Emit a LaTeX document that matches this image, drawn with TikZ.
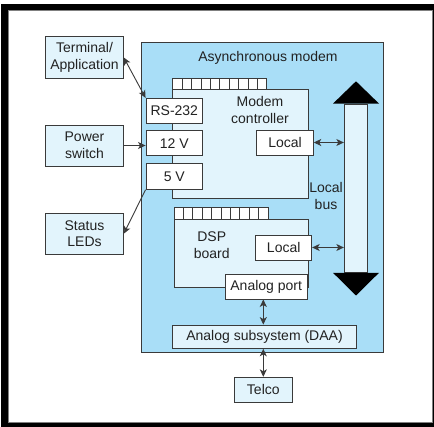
\documentclass[tikz,border=0pt]{standalone}
\usepackage{fontspec}
\setmainfont{Liberation Sans}
\usetikzlibrary{arrows.meta}
\definecolor{modemblue}{HTML}{A9DEF7}
\definecolor{lightblue}{HTML}{E2F4FC}
\definecolor{edgegray}{HTML}{3A3A3A}
\definecolor{txt}{HTML}{222222}
\begin{document}
\begin{tikzpicture}[x=1pt,y=-1pt,
  font=\fontsize{14}{16.5}\selectfont, text=txt,
  box/.style={draw=edgegray, line width=0.9pt, fill=lightblue, inner sep=0pt, align=center},
  wbox/.style={box, fill=white},
  tip/.tip={Stealth[length=7.5pt,width=7pt,inset=2pt]},
  dconn/.style={line width=0.9pt, draw=edgegray, tip-tip},
  sconn/.style={line width=0.9pt, draw=edgegray, -tip},
  lbl/.style={inner sep=0pt, align=center}
]
\useasboundingbox (0,0) rectangle (434,427);
% frame
\fill[black] (1,4) rectangle (433.5,427);
\draw[gray, fill=white, line width=0.6pt] (8,10) rectangle (432.5,422);

% external boxes
\node[box, minimum width=77.6pt, minimum height=41.6pt] (term) at (84.5,57.5) {Terminal/\\Application};
\node[box, minimum width=77.6pt, minimum height=41pt] (power) at (84.5,145.5) {Power\\switch};
\node[box, minimum width=77.6pt, minimum height=40.7pt] (leds) at (84.5,233.7) {Status\\LEDs};

% modem
\node[box, fill=modemblue, minimum width=242pt, minimum height=310.4pt] (modem) at (262.3,197.5) {};
\node[lbl] (modemlbl) at (268,58) {Asynchronous modem};

% modem controller board
\node[box, minimum width=135.6pt, minimum height=109pt] (ctrl) at (240.5,143.8) {};
\foreach \i in {0,...,9} {
  \draw[draw=edgegray, line width=0.7pt, fill=white] (172.7+\i*9.4,78.3) rectangle (172.7+\i*9.4+9.4,89.3);
}
\node[lbl] (ctrllbl) at (260,110) {Modem\\controller};

% DSP board
\node[box, minimum width=134.3pt, minimum height=68pt] (dsp) at (241.2,253.3) {};
\foreach \i in {0,...,9} {
  \draw[draw=edgegray, line width=0.7pt, fill=white] (174+\i*9.4,207.7) rectangle (174+\i*9.4+9.4,219.3);
}
\node[lbl] (dsplbl) at (211.7,245) {DSP\\board};

% small white boxes
\node[wbox, minimum width=56.6pt, minimum height=25pt] (rs) at (174.3,110.8) {RS-232};
\node[wbox, minimum width=56.6pt, minimum height=25pt] (twelve) at (174.3,143.2) {12 V};
\node[wbox, minimum width=56.6pt, minimum height=26pt] (five) at (174.3,176.3) {5 V};
\node[wbox, minimum width=56.6pt, minimum height=25pt] (loc1) at (285,142.5) {Local};
\node[wbox, minimum width=56pt, minimum height=25pt] (loc2) at (283.7,247.5) {Local};
\node[wbox, minimum width=82.3pt, minimum height=25pt] (aport) at (266.2,286.5) {Analog port};

% DAA and Telco
\node[box, minimum width=184.4pt, minimum height=23.3pt] (daa) at (264.5,336.7) {Analog subsystem (DAA)};
\node[box, minimum width=58pt, minimum height=25pt] (telco) at (263.3,389.8) {Telco};

% local bus
\node[box, minimum width=23.4pt, minimum height=168.3pt] (shaft) at (356,188.2) {};
\fill[black] (shaft.north) ++(0,-22.3) -- ++(23,22.3) -- ++(-46,0) -- cycle;
\fill[black] (shaft.south) ++(0,22.7) -- ++(23,-22.7) -- ++(-46,0) -- cycle;
\node[lbl] (buslbl) at (326,196) {Local\\bus};

% connectors
\draw[dconn] (term.east) -- (rs.north west);
\draw[sconn] (power.east) -- (power.east -| twelve.west);
\draw[sconn] (five.south west) -- (leds.east);
\draw[dconn] (loc1.east) -- (loc1.east -| shaft.west);
\draw[dconn] (loc2.east) -- (loc2.east -| shaft.west);
\draw[dconn] (aport.south -| telco.north) -- (daa.north -| telco.north);
\draw[dconn] (daa.south -| telco.north) -- (telco.north);
\end{tikzpicture}
\end{document}
